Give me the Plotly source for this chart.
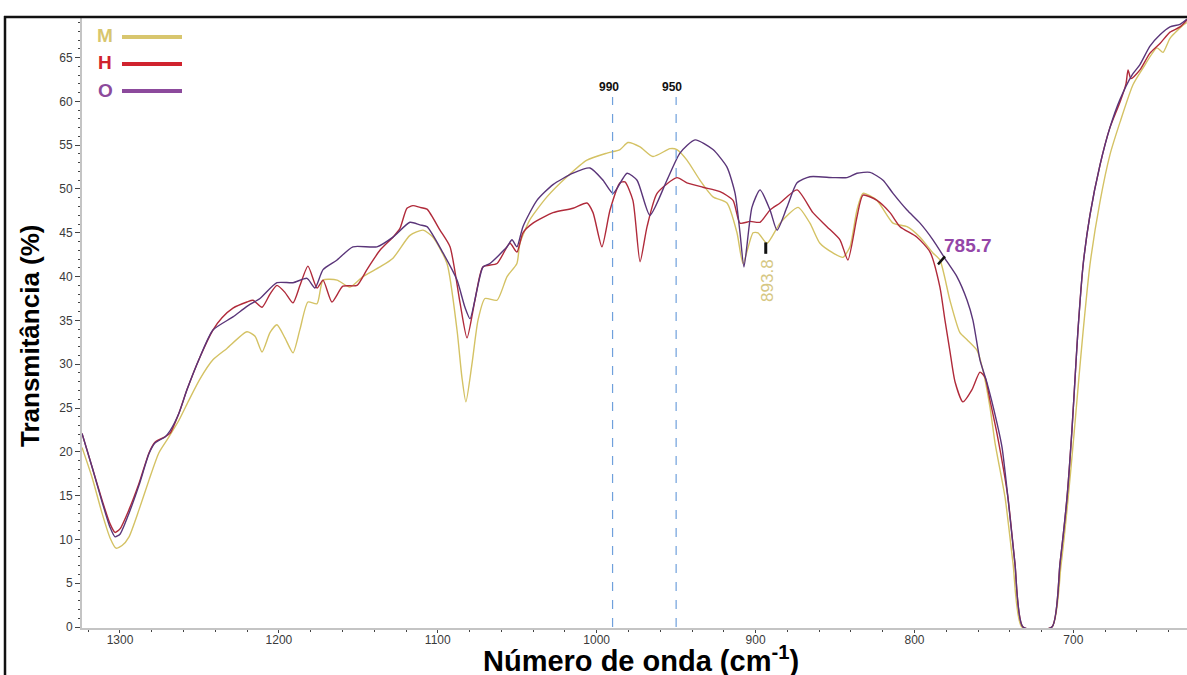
import plotly.graph_objects as go

# FTIR transmittance spectra (wavenumber in cm-1, transmittance in %)
wn_h = [1323.9, 1317.6, 1311.3, 1306.3, 1303.1, 1300.0, 1294.3, 1288.0, 1281.7, 1278.0, 1271.7, 1268.5,
        1262.9, 1257.8, 1249.7, 1241.5, 1235.8, 1228.9, 1220.1, 1216.3, 1210.6, 1205.6, 1201.2, 1196.2,
        1191.1, 1186.7, 1181.7, 1176.0, 1172.2, 1166.6, 1159.7, 1150.8, 1144.6, 1136.4, 1128.2, 1123.8,
        1119.4, 1115.6, 1111.2, 1106.8, 1098.6, 1092.3, 1086.0, 1081.6, 1076.6, 1071.6, 1062.7, 1054.6,
        1050.2, 1046.4, 1040.1, 1027.5, 1014.9, 1006.1, 1002.3, 996.7, 991.6, 985.3, 982.2, 977.2,
        972.7, 968.3, 962.0, 949.5, 943.2, 933.1, 922.4, 914.2, 909.8, 903.5, 897.2, 890.9,
        884.6, 873.9, 863.9, 855.1, 846.9, 841.9, 836.2, 832.4, 823.6, 815.4, 809.1, 798.4,
        790.2, 784.0, 780.8, 777.7, 774.5, 769.5, 763.8, 758.8, 755.6, 752.5, 748.1, 741.2,
        736.8, 731.7, 713.5, 708.4, 704.0, 700.9, 698.4, 697.1, 693.9, 689.6, 683.3, 677.0,
        670.7, 666.9, 665.6, 663.8, 658.1, 651.8, 645.5, 639.2, 632.9, 628.5]
t_h = [22.1, 18.3, 14.5, 11.8, 10.8, 11.2, 13.4, 16.4, 19.9, 21.1, 21.7, 22.1,
       24.4, 27.1, 30.8, 33.9, 35.3, 36.4, 37.1, 37.3, 36.5, 38.0, 39.0, 38.2,
       37.0, 39.0, 41.2, 38.7, 39.6, 37.1, 38.9, 39.0, 40.8, 43.0, 44.5, 45.5,
       47.8, 48.1, 47.9, 47.7, 45.3, 43.4, 37.0, 33.0, 37.3, 41.1, 41.5, 43.8,
       42.8, 45.0, 46.1, 47.3, 47.8, 48.4, 47.3, 43.4, 47.6, 50.7, 50.8, 48.7,
       41.7, 45.7, 49.5, 51.3, 50.7, 50.2, 49.7, 48.7, 46.1, 46.3, 46.2, 47.6,
       48.4, 49.9, 47.3, 45.7, 44.2, 41.9, 46.8, 49.3, 48.7, 47.3, 45.7, 44.5,
       42.8, 38.8, 35.0, 31.5, 28.0, 25.7, 27.1, 29.1, 28.5, 25.9, 22.1, 14.8,
       7.3, 0.0, 0.0, 7.3, 14.8, 22.5, 30.1, 33.9, 41.3, 47.0, 52.7, 57.0,
       59.9, 62.0, 63.6, 62.6, 63.6, 65.5, 66.6, 67.9, 68.5, 69.3]

wn_o = [1323.9, 1317.6, 1311.3, 1306.3, 1303.1, 1300.0, 1294.3, 1288.0, 1281.7, 1278.0, 1271.7, 1268.5,
        1262.9, 1257.8, 1249.7, 1241.5, 1228.9, 1220.1, 1211.9, 1201.2, 1191.1, 1182.3, 1177.3, 1172.2,
        1163.4, 1153.4, 1138.3, 1128.2, 1117.5, 1111.2, 1106.8, 1096.7, 1087.9, 1082.9, 1079.7, 1075.3,
        1071.6, 1067.2, 1056.4, 1053.3, 1050.2, 1046.4, 1037.6, 1027.5, 1014.9, 1004.2, 996.0, 989.7,
        980.9, 974.6, 966.5, 955.8, 947.6, 938.1, 926.8, 918.0, 912.9, 909.8, 907.3, 902.3,
        897.2, 890.9, 886.5, 880.3, 873.9, 865.8, 851.3, 842.5, 836.2, 828.0, 819.8, 813.5,
        804.7, 796.5, 788.4, 779.5, 773.3, 766.9, 763.2, 758.8, 754.4, 748.1, 744.9, 741.2,
        736.8, 731.7, 713.5, 708.4, 704.0, 700.9, 698.4, 697.1, 693.9, 689.6, 683.3, 677.0,
        670.7, 663.1, 658.1, 651.8, 645.5, 639.2, 632.9, 628.5]
t_o = [22.1, 18.3, 14.3, 11.4, 10.3, 10.6, 13.0, 16.2, 19.8, 21.0, 21.7, 22.4,
       24.4, 27.1, 30.8, 33.9, 35.4, 36.6, 37.5, 39.3, 39.3, 39.8, 38.7, 40.8,
       41.9, 43.4, 43.4, 44.5, 46.2, 45.9, 45.7, 42.7, 39.6, 36.5, 35.2, 38.5,
       41.1, 41.5, 43.4, 44.2, 43.4, 45.7, 48.7, 50.5, 51.8, 52.4, 51.0, 49.5,
       51.8, 51.0, 47.0, 51.0, 54.1, 55.6, 54.5, 52.5, 49.5, 45.0, 41.1, 47.9,
       49.9, 47.6, 45.3, 47.9, 50.7, 51.4, 51.3, 51.3, 51.8, 51.9, 51.0, 49.5,
       47.6, 46.1, 44.2, 41.7, 40.0, 37.3, 35.0, 30.5, 27.9, 23.3, 20.5, 14.8,
       7.3, 0.0, 0.0, 7.3, 14.8, 22.5, 30.1, 33.9, 41.3, 47.0, 52.7, 57.0,
       60.2, 63.0, 64.2, 66.3, 67.6, 68.5, 68.8, 69.4]

wn_m = [1323.9, 1317.6, 1311.3, 1306.3, 1302.5, 1298.7, 1294.3, 1288.0, 1281.7, 1275.5, 1269.2, 1262.9,
        1256.6, 1249.7, 1241.5, 1232.7, 1220.1, 1215.0, 1210.6, 1205.6, 1201.2, 1196.2, 1191.1, 1186.7,
        1181.7, 1176.0, 1172.2, 1163.4, 1155.3, 1147.1, 1136.4, 1128.2, 1117.5, 1109.3, 1103.0, 1094.2,
        1087.9, 1084.8, 1082.3, 1078.5, 1074.7, 1070.3, 1062.7, 1056.4, 1050.2, 1048.3, 1042.0, 1031.3,
        1018.7, 1006.1, 993.5, 985.3, 980.3, 972.7, 964.6, 953.9, 949.5, 943.2, 935.0, 926.8,
        918.0, 911.7, 907.9, 901.6, 898.5, 892.8, 884.6, 873.3, 865.8, 859.5, 851.3, 845.0,
        840.6, 836.2, 832.4, 823.6, 813.5, 804.7, 796.5, 788.4, 784.0, 777.7, 771.4, 766.9,
        760.7, 756.9, 752.5, 749.3, 743.0, 738.0, 732.4, 713.5, 707.8, 703.4, 699.6, 696.5,
        693.9, 689.6, 683.3, 677.0, 670.7, 662.5, 656.2, 647.4, 643.6, 639.2, 631.0, 628.5]
t_m = [20.5, 17.1, 13.0, 10.2, 9.0, 9.3, 10.3, 13.4, 16.8, 19.9, 21.7, 23.6,
       25.9, 28.3, 30.5, 31.8, 33.7, 33.2, 31.4, 33.6, 34.5, 33.0, 31.3, 34.0,
       37.1, 36.9, 39.6, 39.6, 38.8, 40.0, 41.1, 42.1, 44.7, 45.3, 44.5, 41.5,
       33.9, 28.5, 25.7, 30.0, 35.0, 37.5, 37.3, 40.0, 41.5, 43.8, 46.5, 49.1,
       51.4, 53.3, 54.1, 54.5, 55.3, 54.8, 53.7, 54.6, 54.5, 53.3, 51.0, 49.1,
       48.4, 45.0, 41.5, 45.0, 45.0, 43.8, 46.1, 47.9, 46.1, 43.8, 42.7, 42.2,
       43.4, 47.6, 49.5, 48.7, 46.1, 45.7, 44.5, 42.7, 41.9, 37.3, 33.6, 32.8,
       31.6, 29.3, 25.1, 21.0, 14.8, 7.3, 0.0, 0.0, 7.0, 14.5, 22.0, 28.5,
       33.7, 41.3, 48.5, 53.9, 57.6, 61.9, 63.8, 66.1, 65.6, 67.2, 68.7, 69.0]

series_names = ["M", "H", "O"]
curve_colors = {"M": "#D4C264", "H": "#B02A3A", "O": "#5A3579"}
legend_colors = {"M": "#D8C66E", "H": "#D0232E", "O": "#8C4A9C"}

ref_lines = [990, 950]
x_ticks = [1300, 1200, 1100, 1000, 900, 800, 700]
x_range = [1323.9, 628.5]
y_range = [-0.11, 69.63]

FONT = "Arial, Liberation Sans, sans-serif"

fig = go.Figure()
for name, wn, t in [("M", wn_m, t_m), ("H", wn_h, t_h), ("O", wn_o, t_o)]:
    fig.add_trace(go.Scatter(
        x=wn, y=t, mode="lines", name=name,
        line=dict(color=curve_colors[name], width=1.4, shape="spline", smoothing=0.6),
        showlegend=False,
    ))

shapes = []
annotations = []

# dashed reference lines with labels
for wl in ref_lines:
    shapes.append(dict(type="line", xref="x", yref="y", x0=wl, x1=wl, y0=0, y1=60.5,
                       line=dict(color="#6FA0DC", width=1.2, dash="dash")))
    annotations.append(dict(x=wl, y=61.6, xref="x", yref="y", text="<b>%d</b>" % wl,
                            showarrow=False, xshift=-4, xanchor="center", yanchor="middle",
                            font=dict(family=FONT, size=12, color="#111111")))

# peak labels
shapes.append(dict(type="line", xref="x", yref="y", x0=893.6, x1=893.6, y0=42.6, y1=43.9,
                   line=dict(color="#111111", width=3)))
annotations.append(dict(x=892.9, y=39.6, xref="x", yref="y", text="893.8", textangle=-90,
                        showarrow=False, xanchor="center", yanchor="middle",
                        font=dict(family=FONT, size=17, color="#D6C783")))
shapes.append(dict(type="line", xref="x", yref="y", x0=780.8, x1=785.2, y0=42.3, y1=41.4,
                   line=dict(color="#111111", width=2.5)))
annotations.append(dict(x=766.3, y=43.6, xref="x", yref="y", text="<b>785.7</b>",
                        showarrow=False, xanchor="center", yanchor="middle",
                        font=dict(family=FONT, size=19, color="#9446A8")))

# legend: letter followed by a line sample
W, H_PLOT = 1105.0, 611.0
def px(x):
    return (x - 82) / W
def py(y):
    return (628 - y) / H_PLOT

for i, name in enumerate(series_names):
    ly = 37 + i * 27
    annotations.append(dict(x=px(105), y=py(ly - 1), xref="paper", yref="paper",
                            text="<b>%s</b>" % name, showarrow=False,
                            xanchor="center", yanchor="middle",
                            font=dict(family=FONT, size=19, color=legend_colors[name])))
    shapes.append(dict(type="line", xref="paper", yref="paper", x0=px(122), x1=px(182),
                       y0=py(ly), y1=py(ly), line=dict(color=legend_colors[name], width=4)))

# axis titles
annotations.append(dict(x=px(30), y=py(336), xref="paper", yref="paper",
                        text="<b>Transmitância (%)</b>", textangle=-90, showarrow=False,
                        xanchor="center", yanchor="middle",
                        font=dict(family=FONT, size=26, color="#000000")))
annotations.append(dict(x=px(641), y=py(679), xref="paper", yref="paper",
                        text="<b>Número de onda (cm<sup>-1</sup>)</b>", showarrow=False,
                        xanchor="center", yanchor="bottom",
                        font=dict(family=FONT, size=29, color="#000000")))

# outer frame (top and left)
shapes.append(dict(type="line", xref="paper", yref="paper", x0=px(4), x1=px(1190),
                   y0=py(17), y1=py(17), line=dict(color="#111111", width=2.5)))
shapes.append(dict(type="line", xref="paper", yref="paper", x0=px(5), x1=px(5),
                   y0=py(16), y1=py(680), line=dict(color="#111111", width=2.5)))

fig.update_layout(
    width=1187, height=675,
    margin=dict(l=82, r=0, t=17, b=47),
    paper_bgcolor="white", plot_bgcolor="white",
    shapes=shapes, annotations=annotations,
    font=dict(family=FONT),
    xaxis=dict(range=x_range, tickvals=x_ticks, ticks="outside", ticklen=3, tickwidth=1,
               tickcolor="#444444", showline=True, linecolor="#C4C4C4", linewidth=2,
               showgrid=False, zeroline=False, ticklabelstandoff=-3,
               tickfont=dict(family=FONT, size=12, color="#3a3a3a"),
               minor=dict(dtick=20, tick0=0, ticks="outside", ticklen=2, tickcolor="#444444")),
    yaxis=dict(range=y_range, dtick=5, tick0=0, ticks="outside", ticklen=5, tickwidth=1,
               tickcolor="#444444", showline=True, linecolor="#C4C4C4", linewidth=2,
               showgrid=False, zeroline=False,
               tickfont=dict(family=FONT, size=12, color="#3a3a3a"),
               minor=dict(dtick=1, tick0=0, ticks="outside", ticklen=2, tickcolor="#444444")),
)

fig.write_html("out.html")
